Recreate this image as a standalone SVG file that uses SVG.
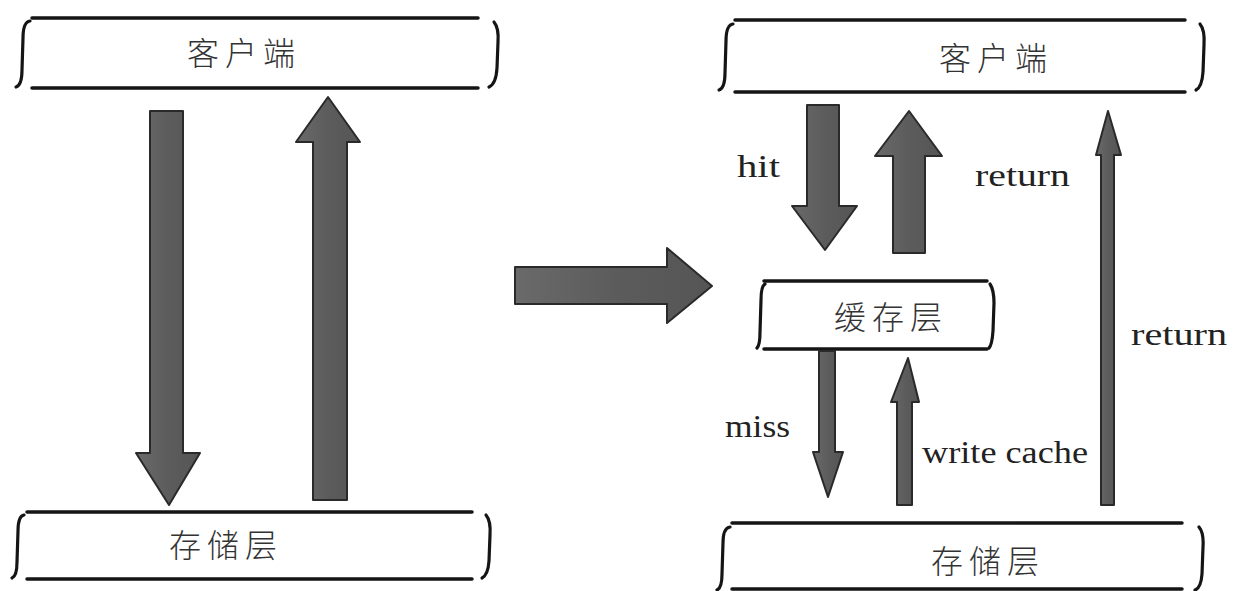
<svg xmlns="http://www.w3.org/2000/svg" width="1233" height="591" viewBox="0 0 1233 591">
<defs>
<linearGradient id="g" x1="0" y1="0" x2="1" y2="0">
<stop offset="0" stop-color="#6a6a6a"/><stop offset="0.5" stop-color="#5c5c5c"/><stop offset="1" stop-color="#555"/>
</linearGradient>
</defs>
<style>
.ln{stroke:#151515;stroke-width:3.5;stroke-linecap:round;fill:none}
.br{stroke:#151515;stroke-width:3.2;stroke-linecap:round;fill:none}
.cj{font-family:"Noto Sans CJK SC","Noto Sans CJK JP",sans-serif;font-size:32px;fill:#333;text-anchor:middle;letter-spacing:6px;font-weight:300}
.lb{font-family:"Liberation Serif",serif;font-size:32px;fill:#222}
.ar{fill:url(#g);stroke:#2a2a2a;stroke-width:2;stroke-linejoin:round}
</style>
<rect width="1233" height="591" fill="#fff"/>

<g id="client-left">
<line class="ln" x1="32" y1="18" x2="478" y2="18"/>
<line class="ln" x1="32" y1="88" x2="478" y2="88"/>
<path class="br" d="M30 21 Q23 22 23 38 L22 70 Q22 85 16 87"/>
<path class="br" d="M494 22 Q499 28 498 42 L497 68 Q496 84 489 87"/>
<text class="cj" x="244" y="65">客户端</text>
</g>

<g id="storage-left">
<line class="ln" x1="27" y1="512" x2="472" y2="512"/>
<line class="ln" x1="27" y1="579" x2="472" y2="579"/>
<path class="br" d="M24 515 Q18 516 18 531 L17 562 Q17 576 12 578"/>
<path class="br" d="M486 515 Q491 521 490 535 L489 561 Q488 575 482 578"/>
<text class="cj" x="226" y="557">存储层</text>
</g>

<g id="client-right">
<line class="ln" x1="735" y1="20" x2="1185" y2="20"/>
<line class="ln" x1="735" y1="92" x2="1185" y2="92"/>
<path class="br" d="M733 24 Q726 25 726 41 L725 73 Q725 88 719 90"/>
<path class="br" d="M1200 24 Q1205 30 1204 45 L1203 72 Q1202 87 1196 90"/>
<text class="cj" x="996" y="70">客户端</text>
</g>

<g id="cache">
<line class="ln" x1="764" y1="281" x2="987" y2="281"/>
<line class="ln" x1="764" y1="349" x2="987" y2="349"/>
<path class="br" d="M765 284 Q761 286 761 300 L760 332 Q760 345 757 348"/>
<path class="br" d="M990 284 Q994 290 994 303 L993 331 Q992 345 989 348"/>
<text class="cj" x="891" y="329">缓存层</text>
</g>

<g id="storage-right">
<line class="ln" x1="732" y1="523" x2="1182" y2="523"/>
<line class="ln" x1="732" y1="589" x2="1182" y2="589"/>
<path class="br" d="M730 527 Q723 528 723 543 L722 574 Q722 588 717 590"/>
<path class="br" d="M1199 527 Q1204 533 1203 547 L1202 574 Q1201 588 1195 590"/>
<text class="cj" x="988" y="573">存储层</text>
</g>

<g id="connectors">
<polygon class="ar" points="150,111 183,111 183,453 200,453 169,505 136,453 150,453"/>
<polygon class="ar" points="313,500 347,500 347,142 360,142 328,97 296,142 313,142"/>
<polygon class="ar" points="515,267 667,267 667,248 712,286 667,323 667,304 515,304"/>
<polygon class="ar" points="807,105 839,105 839,206 857,206 825,250 792,206 807,206"/>
<polygon class="ar" points="893,253 925,253 925,156 942,156 909,111 875,156 893,156"/>
<polygon class="ar" points="1101,505 1114,505 1114,155 1121,155 1108,111 1096,155 1101,155"/>
<polygon class="ar" points="819,351 835,351 835,452 843,452 828,497 813,452 819,452"/>
<polygon class="ar" points="897,505 912,505 912,402 919,402 908,358 891,402 897,402"/>
</g>

<g id="labels">
<text class="lb" x="737" y="177" textLength="43" lengthAdjust="spacingAndGlyphs">hit</text>
<text class="lb" x="975" y="186" textLength="95" lengthAdjust="spacingAndGlyphs">return</text>
<text class="lb" x="1131" y="345" textLength="96" lengthAdjust="spacingAndGlyphs">return</text>
<text class="lb" x="725" y="437" textLength="65" lengthAdjust="spacingAndGlyphs">miss</text>
<text class="lb" x="922" y="463" textLength="166" lengthAdjust="spacingAndGlyphs">write cache</text>
</g>
</svg>
